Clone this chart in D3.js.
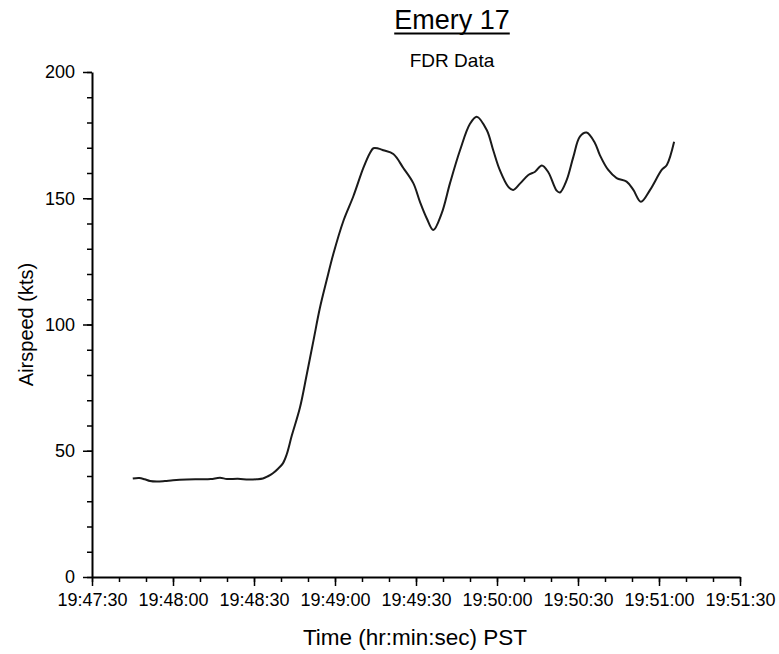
<!DOCTYPE html>
<html>
<head>
<meta charset="utf-8">
<script src="https://cdn.jsdelivr.net/npm/d3@7"></script>
<style>
  body { margin: 0; background: #fff; }
  svg text { font-family: "Liberation Sans", Arial, sans-serif; fill: #000; }
  .axis path, .axis line { stroke: #000; }
</style>
</head>
<body>
<div id="chart"></div>
<script>
// FDR airspeed trace, seconds after 19:47:30 PST
var seconds = [15.1, 17.5, 19.5, 21.5, 24.0, 27.0, 30.0, 35.1, 40.0, 44.0,
  47.4, 50.0, 54.0, 58.0, 61.0, 63.3, 65.0, 67.0, 69.0, 70.7,
  72.1, 74.0, 77.0, 79.5, 82.0, 84.4, 86.9, 89.4, 93.1, 96.8,
  100.5, 103.0, 104.2, 106.0, 107.9, 111.6, 115.3, 119.0, 121.5, 124.0,
  126.4, 129.5, 132.6, 136.3, 140.0, 142.5, 146.2, 148.6, 151.1, 154.2,
  156.0, 158.5, 161.6, 164.1, 166.6, 169.0, 172.1, 173.3, 175.8, 178.3,
  180.7, 183.2, 186.3, 188.1, 191.2, 194.3, 198.0, 200.5, 203.3, 206.7,
  211.0, 212.9, 215.6];
var airspeed = [39.0, 39.2, 38.7, 38.0, 37.8, 38.0, 38.3, 38.6, 38.7, 38.8,
  39.3, 38.8, 38.9, 38.6, 38.7, 39.0, 39.8, 41.1, 43.0, 45.0,
  48.5, 56.0, 67.0, 80.0, 93.5, 106.5, 117.5, 128.0, 141.0, 150.8,
  162.0, 168.0, 169.8, 169.7, 169.0, 167.5, 162.0, 156.0, 148.5, 142.0,
  137.4, 144.0, 156.0, 169.0, 179.5, 182.3, 177.0, 169.0, 161.0, 154.5,
  153.3, 155.8, 159.2, 160.5, 163.0, 160.3, 153.0, 152.3, 157.2, 166.5,
  174.4, 176.0, 171.8, 167.1, 161.2, 158.0, 156.6, 153.3, 148.6, 153.3,
  161.2, 163.2, 172.4];

var yTicks = [0, 50, 100, 150, 200];
var timeFormat = d3.timeFormat("%H:%M:%S");
var startTime = new Date(2000, 0, 1, 19, 47, 30);
var endTime = new Date(2000, 0, 1, 19, 51, 30);

var data = seconds.map(function(s, i) {
  return { time: new Date(+startTime + s * 1000), speed: airspeed[i] };
});

var margin = { top: 72, right: 39, bottom: 77, left: 92 };
var width = 779 - margin.left - margin.right;
var height = 654 - margin.top - margin.bottom;

var xScale = d3.scaleTime().domain([startTime, endTime]).range([0, width]);
var yScale = d3.scaleLinear().domain([0, 200]).range([height, 0]);

var root = d3.select("#chart").append("svg")
  .attr("width", 779)
  .attr("height", 654);

var svg = root.append("g")
  .attr("transform", "translate(" + margin.left + "," + margin.top + ")");

// minor ticks first, then the labelled axes on top
svg.append("g")
  .attr("class", "axis")
  .attr("transform", "translate(0," + height + ")")
  .call(d3.axisBottom(xScale).ticks(d3.timeSecond.every(10)).tickSize(5).tickFormat(""))
  .call(function(g) { g.select(".domain").remove(); })
  .selectAll("line").attr("stroke-width", 1.5);

svg.append("g")
  .attr("class", "axis")
  .call(d3.axisLeft(yScale).ticks(20).tickSize(5).tickFormat(""))
  .call(function(g) { g.select(".domain").remove(); })
  .selectAll("line").attr("stroke-width", 1.5);

var xAxis = svg.append("g")
  .attr("class", "axis")
  .attr("transform", "translate(0," + height + ")")
  .call(d3.axisBottom(xScale).ticks(d3.timeSecond.every(30)).tickSize(9).tickSizeOuter(0)
    .tickPadding(7).tickFormat(timeFormat));
xAxis.select(".domain").attr("stroke-width", 2);
xAxis.selectAll("line").attr("stroke-width", 1.5);
xAxis.selectAll("text").style("font-size", "18px");

var yAxis = svg.append("g")
  .attr("class", "axis")
  .call(d3.axisLeft(yScale).tickValues(yTicks).tickSize(9).tickSizeOuter(0)
    .tickPadding(8));
yAxis.select(".domain").attr("stroke-width", 2);
yAxis.selectAll("line").attr("stroke-width", 1.5);
yAxis.selectAll("text").style("font-size", "18px");

var line = d3.line()
  .x(function(d) { return xScale(d.time); })
  .y(function(d) { return yScale(d.speed); })
  .curve(d3.curveCatmullRom);

svg.append("path")
  .datum(data)
  .attr("fill", "none")
  .attr("stroke", "#1a1a1a")
  .attr("stroke-width", 2)
  .attr("d", line);

// titles
var title = root.append("text")
  .attr("x", 452)
  .attr("y", 29)
  .attr("text-anchor", "middle")
  .style("font-size", "27px")
  .text("Emery 17");

var tb = title.node().getBBox();
root.append("line")
  .attr("x1", tb.x).attr("x2", tb.x + tb.width)
  .attr("y1", 33.5).attr("y2", 33.5)
  .attr("stroke", "#000").attr("stroke-width", 2);

root.append("text")
  .attr("x", 452)
  .attr("y", 67)
  .attr("text-anchor", "middle")
  .style("font-size", "19px")
  .text("FDR Data");

root.append("text")
  .attr("text-anchor", "middle")
  .attr("transform", "translate(33," + (margin.top + height / 2) + ") rotate(-90)")
  .style("font-size", "20px")
  .text("Airspeed (kts)");

root.append("text")
  .attr("x", 415)
  .attr("y", 645)
  .attr("text-anchor", "middle")
  .style("font-size", "22.5px")
  .text("Time (hr:min:sec) PST");
</script>
</body>
</html>
